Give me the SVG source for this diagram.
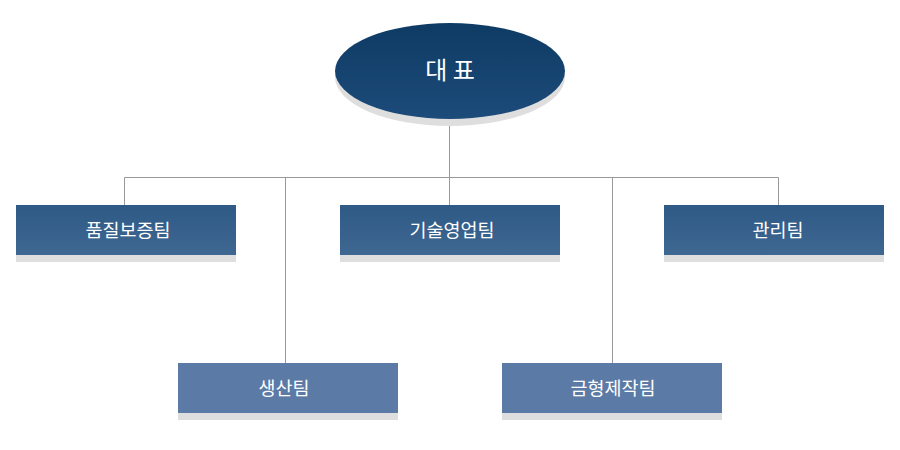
<svg xmlns="http://www.w3.org/2000/svg" width="900" height="450" viewBox="0 0 900 450">
<defs>
<linearGradient id="gE" x1="0" y1="0" x2="0" y2="1"><stop offset="0" stop-color="#0e3b64"/><stop offset="1" stop-color="#1d4b7a"/></linearGradient>
<linearGradient id="gT" x1="0" y1="0" x2="0" y2="1"><stop offset="0" stop-color="#2f5a86"/><stop offset="1" stop-color="#3e6791"/></linearGradient>
<style>
.sh{fill:#dedede}
.top{fill:url(#gT)}
.bot{fill:#5b7aa5}
.t{font-family:"Noto Sans CJK KR","Noto Sans",sans-serif;font-size:18.5px;fill:#ffffff;text-anchor:middle;dominant-baseline:central}
.ln{stroke:#999999;stroke-width:1;fill:none}
</style>
</defs>
<rect width="900" height="450" fill="#ffffff"/>
<g id="connectors">
<path class="ln" d="M449.5 121V177.5M124.5 177.5H778.5M124.5 177.5V205M285.5 177.5V363M449.5 177.5V205M612.5 177.5V363M778.5 177.5V205"/>
</g>
<g id="ceo">
<ellipse cx="450" cy="77" rx="115" ry="49" class="sh"/>
<ellipse cx="450" cy="71" rx="115" ry="48" fill="url(#gE)"/>
<text x="450" y="68" class="t" style="font-size:24px">대 표</text>
</g>
<g id="qa">
<rect x="16" y="211" width="220" height="51" class="sh"/>
<rect x="16" y="205" width="220" height="50" class="top"/>
<text x="128" y="229" class="t">품질보증팀</text>
</g>
<g id="sales">
<rect x="340" y="211" width="220" height="51" class="sh"/>
<rect x="340" y="205" width="220" height="50" class="top"/>
<text x="452" y="229" class="t">기술영업팀</text>
</g>
<g id="admin">
<rect x="664" y="211" width="220" height="51" class="sh"/>
<rect x="664" y="205" width="220" height="50" class="top"/>
<text x="778" y="229" class="t">관리팀</text>
</g>
<g id="production">
<rect x="178" y="369" width="220" height="51" class="sh"/>
<rect x="178" y="363" width="220" height="50" class="bot"/>
<text x="284" y="387" class="t">생산팀</text>
</g>
<g id="mold">
<rect x="502" y="369" width="220" height="51" class="sh"/>
<rect x="502" y="363" width="220" height="50" class="bot"/>
<text x="613" y="387" class="t">금형제작팀</text>
</g>
</svg>
